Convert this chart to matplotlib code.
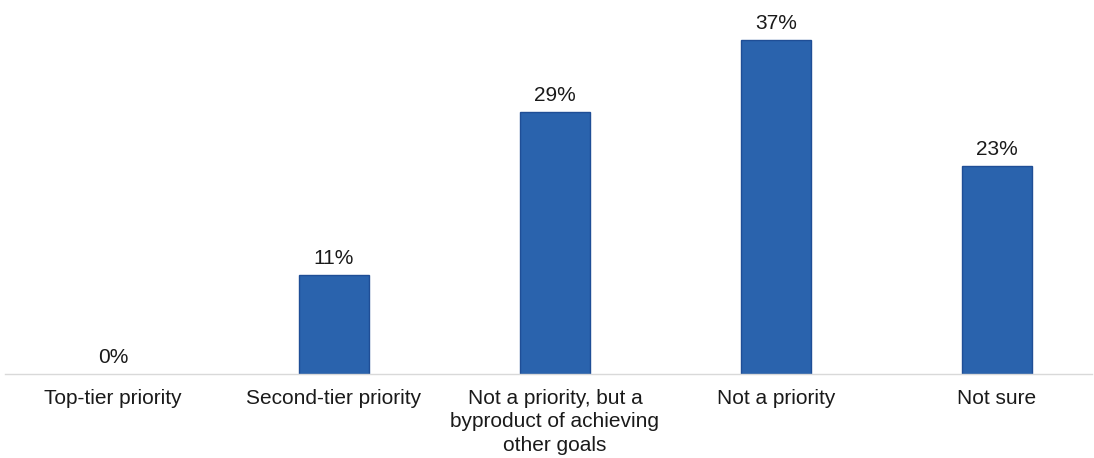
import matplotlib
matplotlib.use("Agg")
import matplotlib.pyplot as plt

plt.rcParams['font.family'] = ['Liberation Sans', 'DejaVu Sans']

categories = [
    "Top-tier priority",
    "Second-tier priority",
    "Not a priority, but a\nbyproduct of achieving\nother goals",
    "Not a priority",
    "Not sure",
]
values = [0, 11, 29, 37, 23]

W, H = 1094, 458
fig = plt.figure(figsize=(W / 100, H / 100), dpi=100)

# axis placed in pixel terms: baseline at y=374, first category at x=113, step 221
left_px, right_px, base_px = 5, 1092, 374
ax = fig.add_axes([left_px / W, (H - base_px) / H, (right_px - left_px) / W, base_px / H])

x = list(range(len(categories)))
bars = ax.bar(x, values, width=0.317, color='#2A63AD', edgecolor='#1F4E96',
              linewidth=[1 if v > 0 else 0 for v in values])

ax.set_xlim((left_px - 113) / 221, (right_px - 113) / 221)
ax.set_ylim(0, base_px / 9.03)

for xi, v in zip(x, values):
    ax.annotate(f"{v}%", (xi, v), xytext=(0, 5), textcoords='offset points',
                ha='center', va='bottom', fontsize=15, color='#1a1a1a')

ax.set_xticks(x)
ax.set_xticklabels(categories, fontsize=15, color='#1a1a1a', linespacing=1.28)
ax.tick_params(axis='x', length=0, pad=11)
ax.set_yticks([])

for s in ['top', 'right', 'left']:
    ax.spines[s].set_visible(False)
ax.spines['bottom'].set_color('#D9D9D9')
ax.spines['bottom'].set_linewidth(1)

fig.savefig("out.png", dpi=100)
